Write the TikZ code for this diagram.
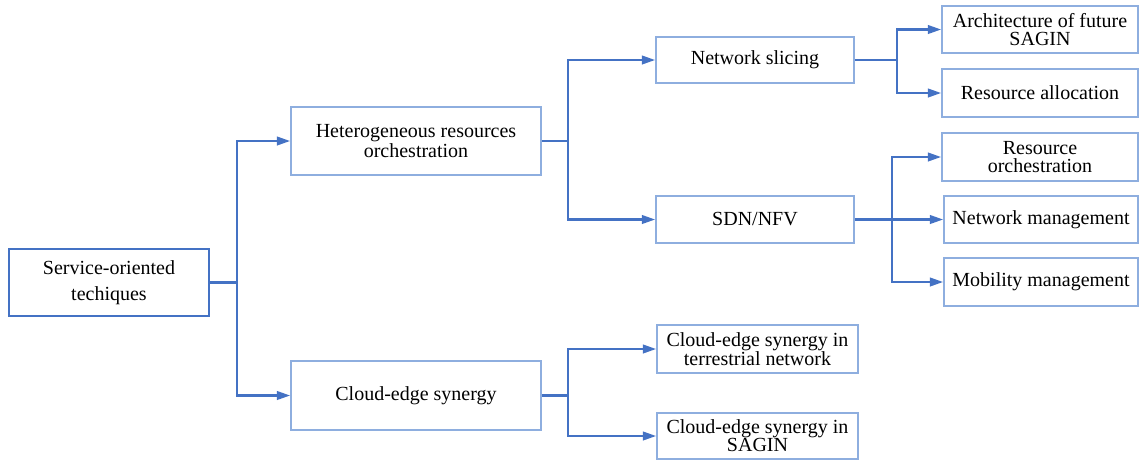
\documentclass[tikz,border=0pt]{standalone}
\usepackage{fontspec}
\setmainfont{Liberation Serif}
\usetikzlibrary{arrows.meta}
\definecolor{lineblue}{HTML}{4472C4}
\definecolor{boxblue}{HTML}{8EAEDF}
\tikzset{
  box/.style={draw=boxblue, line width=1.3pt, inner sep=0pt, align=center, text=black},
  rootbox/.style={box, draw=lineblue},
  conn/.style={draw=lineblue, line width=1.6pt},
  arr/.style={conn, -{Triangle[length=10pt,width=6.5pt]}},
}
\newcommand{\fs}[1]{\fontsize{15}{#1}\selectfont}
\begin{document}
\begin{tikzpicture}[x=0.75pt, y=-0.75pt]
\useasboundingbox (0,0) rectangle (1139,462);
% nodes
\node[rootbox, minimum width=150pt, minimum height=50.25pt, font=\fs{19.5}] (root) at (109,282.5) {Service-oriented\\techiques};
\node[box, minimum width=187.5pt, minimum height=51pt, font=\fs{15}] (het) at (416,141) {Heterogeneous resources\\orchestration};
\node[box, minimum width=187.5pt, minimum height=51.75pt, font=\fs{15}] (ces) at (416,395.5) {Cloud-edge synergy};
\node[box, minimum width=148.5pt, minimum height=34.5pt, font=\fs{15}] (ns) at (755,60) {Network slicing};
\node[box, minimum width=148.5pt, minimum height=35.25pt, font=\fs{15}] (sdn) at (755,219.5) {SDN/NFV};
\node[box, minimum width=147pt, minimum height=35.25pt, font=\fs{13.5}] (arch) at (1040,29.5) {Architecture of future\\SAGIN};
\node[box, minimum width=147pt, minimum height=36pt, font=\fs{15}] (ra) at (1040,93) {Resource allocation};
\node[box, minimum width=147pt, minimum height=36pt, font=\fs{13.5}] (ro) at (1040,157) {Resource\\orchestration};
\node[box, minimum width=145.5pt, minimum height=35.25pt, font=\fs{15}] (nm) at (1041,219.5) {Network management};
\node[box, minimum width=145.5pt, minimum height=36pt, font=\fs{15}] (mm) at (1041,282) {Mobility management};
\node[box, minimum width=150.75pt, minimum height=36pt, font=\fs{14}] (ter) at (757.5,349) {Cloud-edge synergy in\\terrestrial network};
\node[box, minimum width=150.75pt, minimum height=34.5pt, font=\fs{13.5}] (sag) at (757.5,436) {Cloud-edge synergy in\\SAGIN};
% junctions
\coordinate (j1) at (237,282.5);
\coordinate (j2) at (568,141);
\coordinate (j3) at (897,60);
\coordinate (j4) at (892,219.5);
\coordinate (j5) at (568,395.5);
% connectors
\draw[conn] (root.east) -- (j1);
\draw[arr] (j1) |- (het.west);
\draw[arr] (j1) |- (ces.west);
\draw[conn] (het.east) -- (j2);
\draw[arr] (j2) |- (ns.west);
\draw[arr] (j2) |- (sdn.west);
\draw[conn] (ns.east) -- (j3);
\draw[arr] (j3) |- (arch.west);
\draw[arr] (j3) |- (ra.west);
\draw[conn] (sdn.east) -- (j4);
\draw[arr] (j4) |- (ro.west);
\draw[arr] (j4) |- (nm.west);
\draw[arr] (j4) |- (mm.west);
\draw[conn] (ces.east) -- (j5);
\draw[arr] (j5) |- (ter.west);
\draw[arr] (j5) |- (sag.west);
\end{tikzpicture}
\end{document}
